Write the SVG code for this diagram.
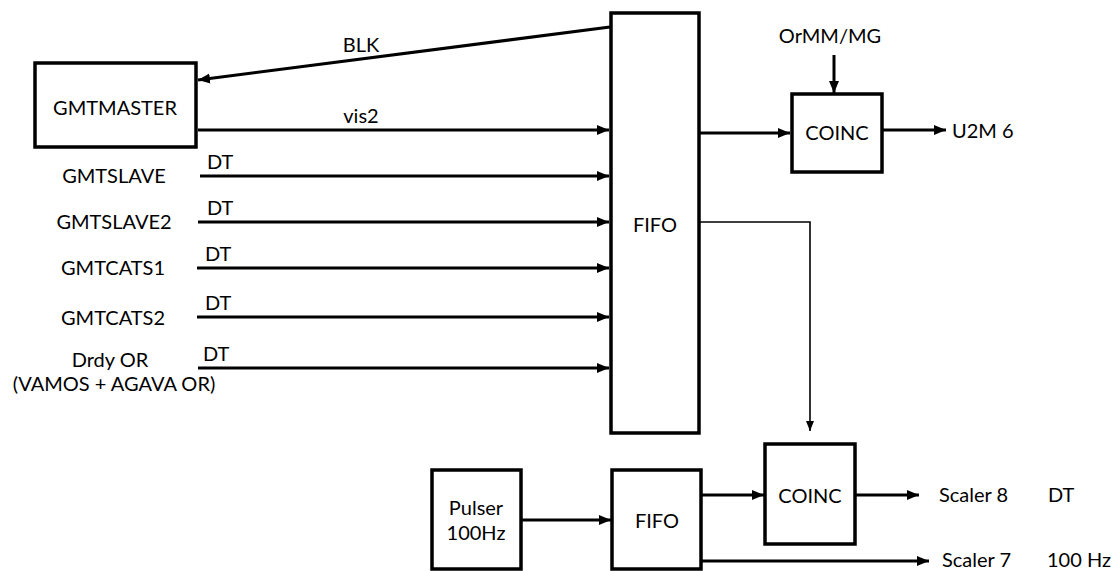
<svg xmlns="http://www.w3.org/2000/svg" width="1113" height="571" viewBox="0 0 1113 571">
<style>
.box{fill:#fff;stroke:#000;stroke-width:3.5}
.ln{fill:none;stroke:#000;stroke-width:3}
.thin{fill:none;stroke:#000;stroke-width:1.6}
text{font-family:Lato,"Liberation Sans",sans-serif;font-size:20px;fill:#000}
.c{text-anchor:middle}
</style>
<defs>
<marker id="ah" markerUnits="userSpaceOnUse" markerWidth="14" markerHeight="12" refX="12" refY="6" orient="auto">
<path d="M0,1 L12,6 L0,11 Z" fill="#000"/>
</marker>
<marker id="ahs" markerUnits="userSpaceOnUse" markerWidth="12" markerHeight="10" refX="10" refY="5" orient="auto">
<path d="M0,1 L10,5 L0,9 Z" fill="#000"/>
</marker>
</defs>
<rect width="1113" height="571" fill="#fff"/>
<g id="connectors">
<line class="ln" x1="610" y1="27" x2="198" y2="80" marker-end="url(#ah)"/>
<line class="ln" x1="198" y1="130" x2="609" y2="130" marker-end="url(#ah)"/>
<line class="ln" x1="200" y1="176" x2="609" y2="176" marker-end="url(#ah)"/>
<line class="ln" x1="198" y1="222" x2="609" y2="222" marker-end="url(#ah)"/>
<line class="ln" x1="197" y1="268" x2="609" y2="268" marker-end="url(#ah)"/>
<line class="ln" x1="197" y1="317" x2="609" y2="317" marker-end="url(#ah)"/>
<line class="ln" x1="198" y1="368" x2="609" y2="368" marker-end="url(#ah)"/>
<line class="ln" x1="699" y1="133" x2="790" y2="133" marker-end="url(#ah)"/>
<line class="ln" x1="834" y1="55" x2="834" y2="93" marker-end="url(#ah)"/>
<line class="ln" x1="882" y1="130" x2="946" y2="130" marker-end="url(#ah)"/>
<polyline class="thin" points="699,222 810,222 810,431" marker-end="url(#ahs)"/>
<line class="ln" x1="521" y1="520" x2="611" y2="520" marker-end="url(#ah)"/>
<line class="ln" x1="701" y1="495" x2="764" y2="495" marker-end="url(#ah)"/>
<line class="ln" x1="855" y1="495" x2="919" y2="495" marker-end="url(#ah)"/>
<line class="ln" x1="701" y1="561" x2="929" y2="561" marker-end="url(#ah)"/>
<text class="c" x="361" y="52">BLK</text>
<text class="c" x="361" y="123">vis2</text>
<text x="207" y="169">DT</text>
<text x="207" y="215">DT</text>
<text x="205" y="261">DT</text>
<text x="205" y="310">DT</text>
<text x="203" y="361">DT</text>
</g>
<g id="gmtmaster"><rect class="box" x="35" y="63" width="161" height="84"/><text class="c" x="115" y="115">GMTMASTER</text></g>
<g id="gmtslave"><text class="c" x="114" y="183">GMTSLAVE</text></g>
<g id="gmtslave2"><text class="c" x="114" y="229">GMTSLAVE2</text></g>
<g id="gmtcats1"><text class="c" x="113" y="275">GMTCATS1</text></g>
<g id="gmtcats2"><text class="c" x="113" y="325">GMTCATS2</text></g>
<g id="drdy"><text class="c" x="110" y="367">Drdy OR</text><text class="c" x="114" y="391">(VAMOS + AGAVA OR)</text></g>
<g id="fifo-main"><rect class="box" x="611" y="13" width="88" height="420"/><text class="c" x="655" y="232">FIFO</text></g>
<g id="ormm"><text class="c" x="830" y="43">OrMM/MG</text></g>
<g id="coinc-top"><rect class="box" x="792" y="94" width="90" height="78"/><text class="c" x="837" y="140">COINC</text></g>
<g id="u2m"><text x="952" y="138">U2M 6</text></g>
<g id="pulser"><rect class="box" x="432" y="470" width="89" height="99"/><text class="c" x="476" y="515">Pulser</text><text class="c" x="476" y="540">100Hz</text></g>
<g id="fifo-low"><rect class="box" x="612" y="470" width="89" height="99"/><text class="c" x="657" y="528">FIFO</text></g>
<g id="coinc-low"><rect class="box" x="765" y="444" width="90" height="100"/><text class="c" x="810" y="503">COINC</text></g>
<g id="scaler8"><text x="939" y="502">Scaler 8</text><text x="1048" y="502">DT</text></g>
<g id="scaler7"><text x="942" y="567">Scaler 7</text><text x="1047" y="567">100 Hz</text></g>
</svg>
